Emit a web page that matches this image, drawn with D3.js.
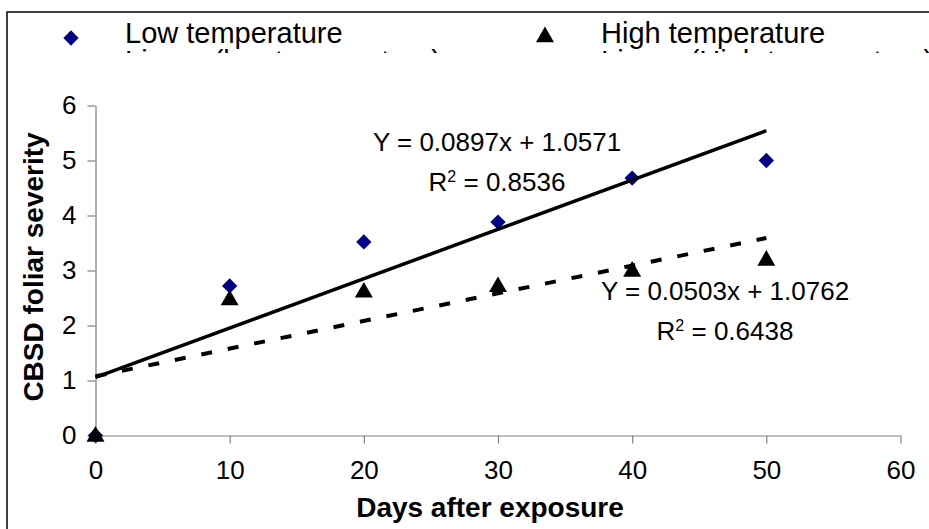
<!DOCTYPE html>
<html>
<head>
<meta charset="utf-8">
<script src="https://cdn.jsdelivr.net/npm/d3@7"></script>
<style>
  html, body { margin: 0; padding: 0; background: #fff; }
  svg { display: block; font-family: "Liberation Sans", Arial, sans-serif; }
</style>
</head>
<body>
<div id="chart"></div>
<script>
const days = [0, 10, 20, 30, 40, 50];
const lowTemp = [0, 2.72, 3.52, 3.88, 4.68, 5.0];
const highTemp = [0, 2.48, 2.62, 2.72, 3.0, 3.2];

// trendline coefficients as printed on the chart: [slope, intercept]
const lowFit = [0.0897, 1.0571];
const highFit = [0.0503, 1.0762];
const lowR2 = "0.8536";
const highR2 = "0.6438";

const xTicks = [0, 10, 20, 30, 40, 50, 60];
const yTicks = [0, 1, 2, 3, 4, 5, 6];

const width = 929, height = 529;

const svg = d3.select("#chart").append("svg")
  .attr("width", width)
  .attr("height", height);

// outer frame (right/bottom edges fall outside the picture)
svg.append("rect")
  .attr("x", 7).attr("y", 12)
  .attr("width", 960).attr("height", 560)
  .attr("fill", "none")
  .attr("stroke", "#000")
  .attr("stroke-width", 1.5);

const x = d3.scaleLinear().domain([0, 60]).range([95.5, 900.5]);
const y = d3.scaleLinear().domain([0, 6]).range([435.5, 105.5]);

// axes
const xAxis = svg.append("g")
  .attr("transform", "translate(0," + y(0) + ")")
  .call(d3.axisBottom(x).tickValues(xTicks).tickFormat(d3.format("d"))
    .tickSize(8).tickPadding(17).tickSizeOuter(0));

const yAxis = svg.append("g")
  .attr("transform", "translate(" + x(0) + ",0)")
  .call(d3.axisLeft(y).tickValues(yTicks).tickFormat(d3.format("d"))
    .tickSize(8).tickPadding(11).tickSizeOuter(0));

[xAxis, yAxis].forEach((a) => {
  a.select(".domain").attr("stroke", "#808080").attr("stroke-width", 1.2);
  a.selectAll(".tick line").attr("stroke", "#808080").attr("stroke-width", 1.2);
  a.selectAll(".tick text")
    .attr("fill", "#000")
    .style("font-family", "'Liberation Sans', Arial, sans-serif")
    .style("font-size", "26px");
});

// axis titles
svg.append("text")
  .attr("x", 490)
  .attr("y", 517)
  .attr("text-anchor", "middle")
  .style("font-size", "28px")
  .style("font-weight", "bold")
  .text("Days after exposure");

svg.append("text")
  .attr("transform", "translate(43,267) rotate(-90)")
  .attr("text-anchor", "middle")
  .style("font-size", "28px")
  .style("font-weight", "bold")
  .text("CBSD foliar severity");

// markers
const diamond = d3.symbol().type(d3.symbolDiamond2).size(150);
const triangle = d3.symbol().type(d3.symbolTriangle).size(140);

svg.append("g").selectAll("path")
  .data(days.map((d, i) => [d, lowTemp[i]]))
  .join("path")
  .attr("transform", (d) => "translate(" + x(d[0]) + "," + y(d[1]) + ")")
  .attr("d", diamond)
  .attr("fill", "#000080");

svg.append("g").selectAll("path")
  .data(days.map((d, i) => [d, highTemp[i]]))
  .join("path")
  .attr("transform", (d) => "translate(" + x(d[0]) + "," + (y(d[1]) + 1) + ")")
  .attr("d", triangle)
  .attr("fill", "#000");

// linear trendlines
const xEnds = [days[0], days[days.length - 1]];
const line = d3.line().x((d) => x(d[0])).y((d) => y(d[1]));

svg.append("path")
  .datum(xEnds.map((d) => [d, lowFit[0] * d + lowFit[1]]))
  .attr("d", line)
  .attr("fill", "none")
  .attr("stroke", "#000")
  .attr("stroke-width", 3.5);

svg.append("path")
  .datum(xEnds.map((d) => [d, highFit[0] * d + highFit[1]]))
  .attr("d", line)
  .attr("fill", "none")
  .attr("stroke", "#000")
  .attr("stroke-width", 4)
  .attr("stroke-dasharray", "11,16");

// equation labels
function equation(fit, r2, cx, yTop) {
  svg.append("text")
    .attr("x", cx).attr("y", yTop)
    .attr("text-anchor", "middle")
    .style("font-size", "26px")
    .text("Y = " + fit[0] + "x + " + fit[1]);
  const t = svg.append("text")
    .attr("x", cx).attr("y", yTop + 40)
    .attr("text-anchor", "middle")
    .style("font-size", "26px");
  t.append("tspan").text("R");
  t.append("tspan").attr("dy", -9).style("font-size", "16px").text("2");
  t.append("tspan").attr("dy", 9).text(" = " + r2);
}
equation(lowFit, lowR2, 497, 151);
equation(highFit, highR2, 725, 300);

// legend (second row is cut off by the legend box in the original)
svg.append("clipPath").attr("id", "legendClip")
  .append("rect").attr("x", 0).attr("y", 0).attr("width", width).attr("height", 53);

const legend = svg.append("g").attr("clip-path", "url(#legendClip)");

legend.append("path")
  .attr("transform", "translate(71,38)")
  .attr("d", diamond)
  .attr("fill", "#000080");
legend.append("path")
  .attr("transform", "translate(545,37)")
  .attr("d", triangle)
  .attr("fill", "#000");

const legendRows = [
  ["Low temperature", "High temperature"],
  ["Linear (low temperature)", "Linear (High temperature)"]
];
legendRows.forEach((row, r) => {
  legend.append("text").attr("x", 125).attr("y", 43 + r * 28)
    .style("font-size", "29px").text(row[0]);
  legend.append("text").attr("x", 601).attr("y", 43 + r * 28)
    .style("font-size", "29px").text(row[1]);
});
</script>
</body>
</html>
